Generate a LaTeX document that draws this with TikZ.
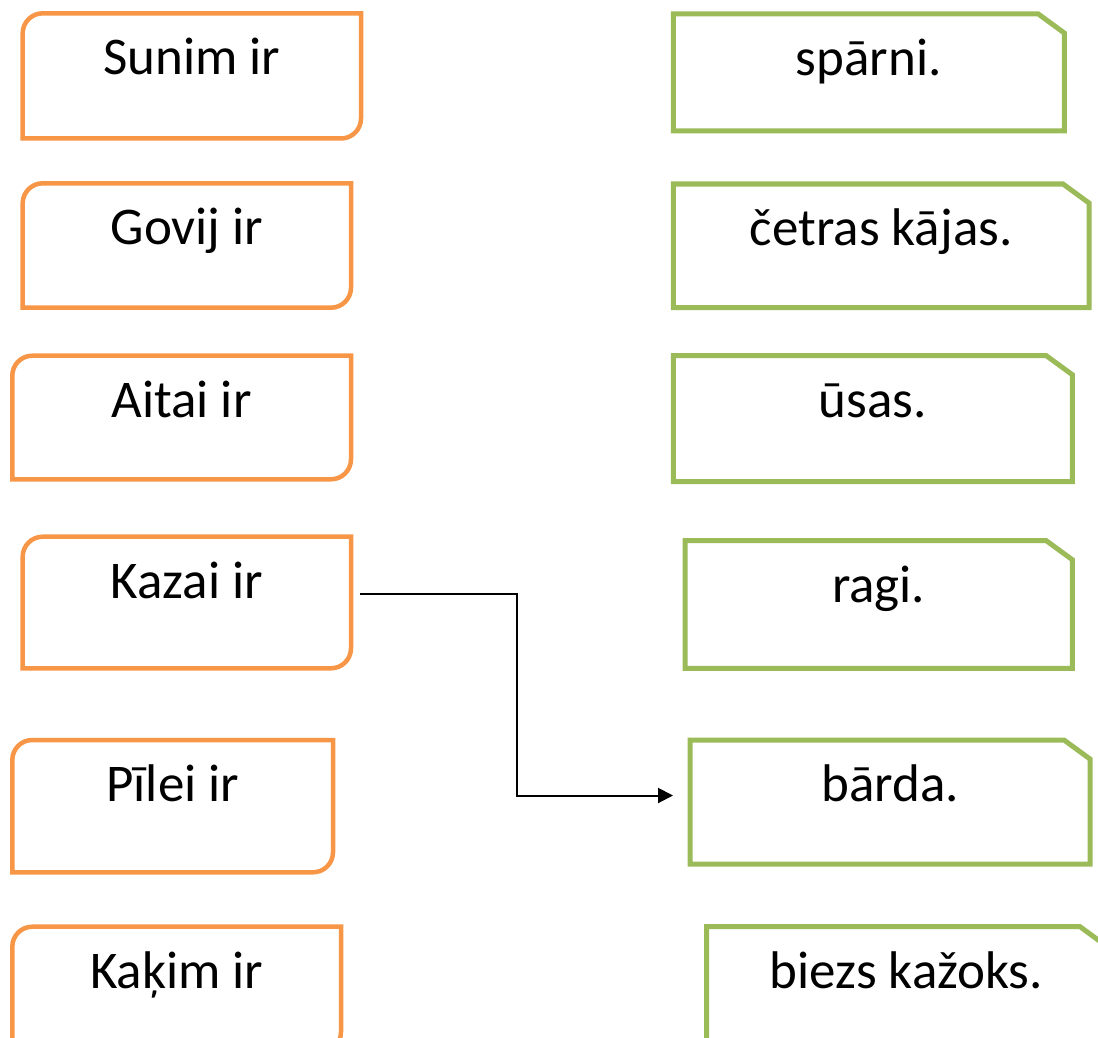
\documentclass[tikz,border=0pt]{standalone}
\usepackage{fontspec}
\setmainfont{Carlito}
\usetikzlibrary{calc,arrows.meta}
\definecolor{boxorange}{HTML}{F79646}
\definecolor{boxgreen}{HTML}{9BBB59}

\begin{document}
\begin{tikzpicture}[x=1pt,y=-1pt,
    card/.style={anchor=north west, inner sep=0pt, outer sep=0pt,
      text height=61.5pt, font=\fontsize{53}{64}\selectfont},
    orangeline/.style={draw=boxorange, line width=4.5pt},
    greenline/.style={draw=boxgreen, line width=5pt},
    link/.style={draw=black, line width=2pt, -{Triangle[length=15pt,width=15pt]}}]
  \useasboundingbox (0,0) rectangle (1098,1038);

  % left column: rounded top-left and bottom-right corners
  \foreach \nm/\xa/\ya/\xb/\yb/\txt in {
      sunim/22.7/13.3/361/138.5/Sunim ir,
      govij/22.7/183.3/351/307.7/Govij ir,
      aitai/12.3/355.7/351/479.3/Aitai ir,
      kazai/22.7/536.7/351/668.3/Kazai ir,
      pilei/12.3/740/333/872.3/Pīlei ir,
      kakim/12.3/926.7/341/1052/Kaķim ir} {
    \pgfmathsetmacro\cardw{\xb-\xa}
    \pgfmathsetmacro\carddp{\yb-\ya-61.5}
    \node[card, minimum width=\cardw pt, text depth=\carddp pt] (\nm) at (\xa,\ya) {\txt};
    \draw[orangeline] (\nm.south west) -- ($(\nm.north west)+(0,20)$)
      arc[start angle=180, end angle=270, radius=20] -- (\nm.north east)
      -- ($(\nm.south east)+(0,-20)$)
      arc[start angle=0, end angle=90, radius=20] -- cycle;
  }

  % right column: cut top-right corner
  \foreach \nm/\xa/\ya/\xb/\yb/\txt in {
      sparni/673.3/14/1064.3/131/spārni.,
      cetras/673.3/184/1089/307.7/četras kājas.,
      usas/673.3/355.7/1072.3/481.7/ūsas.,
      ragi/685/540.7/1072.3/668.3/ragi.,
      barda/690/740/1090/864/bārda.,
      biezs/706.7/926.7/1106/1060/biezs kažoks.} {
    \pgfmathsetmacro\cardw{\xb-\xa}
    \pgfmathsetmacro\carddp{\yb-\ya-61.5}
    \node[card, minimum width=\cardw pt, text depth=\carddp pt] (\nm) at (\xa,\ya) {\txt};
    \draw[greenline] (\nm.south west) -- (\nm.north west)
      -- ($(\nm.north east)+(-26,0)$) -- ($(\nm.north east)+(0,19)$)
      -- (\nm.south east) -- cycle;
  }

  \coordinate (kazai-out) at ($(kazai.east)+(9,-8.5)$);
  \coordinate (barda-in) at ($(barda.west)+(-17,-6.5)$);
  \draw[link] (kazai-out) -| ($(kazai-out)!0.5!(barda-in)$) |- (barda-in);
\end{tikzpicture}
\end{document}
